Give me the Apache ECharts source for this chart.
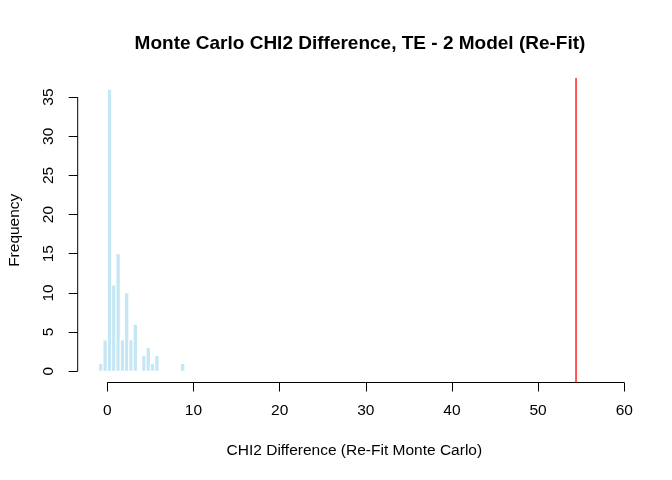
<!DOCTYPE html>
<html><head><meta charset="utf-8">
<script src="https://cdn.jsdelivr.net/npm/echarts@6/dist/echarts.min.js"></script>
<style>html,body{margin:0;padding:0;background:#fff}#c{width:672px;height:480px}</style>
</head><body><div id="c"></div>
<script>
var binLefts = [-1,-0.5,0,0.5,1,1.5,2,2.5,3,3.5,4,4.5,5,5.5,6,6.5,7,7.5,8,8.5];
var binWidth = 0.5;
var counts = [1,4,36,11,15,4,10,4,6,0,2,3,1,2,0,0,0,0,0,1];
var xTicks = [0,10,20,30,40,50,60];
var yTicks = [0,5,10,15,20,25,30,35];
var observed = 54.4;
var titleText = 'Monte Carlo CHI2 Difference, TE - 2 Model (Re-Fit)';
var xTitle = 'CHI2 Difference (Re-Fit Monte Carlo)';
var yTitle = 'Frequency';

var xMin = -3.44, xMax = 60.78, yMin = -1.44, yMax = 37.44;
var font = 'Liberation Sans, Arial, sans-serif';
var histData = binLefts.map(function(b,i){return [b, b+binWidth, counts[i]];}).filter(function(d){return d[2]>0;});

var chart = echarts.init(document.getElementById('c'), null, {renderer:'canvas'});
chart.setOption({
  animation:false,
  backgroundColor:'#fff',
  title:{text:titleText,left:355,top:29,textAlign:'center',
    textStyle:{fontFamily:font,fontSize:19,fontWeight:'bold',color:'#000'}},
  grid:{left:77.7,right:41,top:78,bottom:97.5,containLabel:false,outerBoundsMode:'none'},
  xAxis:{type:'value',min:xMin,max:xMax,
    axisLine:{show:false,onZero:false},splitLine:{show:false},
    axisTick:{show:true,customValues:xTicks,length:9,lineStyle:{color:'#000',width:1}},
    axisLabel:{customValues:xTicks,margin:20,fontFamily:font,fontSize:15.5,color:'#000'},
    name:xTitle,nameLocation:'middle',nameGap:60,
    nameTextStyle:{fontFamily:font,fontSize:15.5,color:'#000'}},
  yAxis:{type:'value',min:yMin,max:yMax,
    axisLine:{show:false,onZero:false},splitLine:{show:false},
    axisTick:{show:true,customValues:yTicks,length:9,lineStyle:{color:'#000',width:1}},
    axisLabel:{customValues:yTicks,rotate:90,margin:21,fontFamily:font,fontSize:15.5,color:'#000'},
    name:yTitle,nameLocation:'middle',nameGap:55,nameRotate:90,
    nameTextStyle:{fontFamily:font,fontSize:15.5,color:'#000'}},
  series:[
    {type:'custom',data:histData,clip:false,
     renderItem:function(params,api){
       var p0=api.coord([api.value(0),api.value(2)]);
       var p1=api.coord([api.value(1),0]);
       return {type:'rect',shape:{x:p0[0],y:p0[1],width:p1[0]-p0[0],height:p1[1]-p0[1]},
         style:{fill:'#c4e6f5',stroke:'#fff',lineWidth:1}};
     }},
    {type:'line',data:[[xTicks[0],yMin],[xTicks[xTicks.length-1],yMin]],symbol:'none',
     lineStyle:{color:'#000',width:1},silent:true},
    {type:'line',data:[[xMin,yTicks[0]],[xMin,yTicks[yTicks.length-1]]],symbol:'none',
     lineStyle:{color:'#000',width:1},silent:true},
    {type:'line',data:[[observed,yMin],[observed,yMax]],symbol:'none',
     lineStyle:{color:'#ff0000',width:1.3},silent:true}
  ]
});
</script></body></html>
